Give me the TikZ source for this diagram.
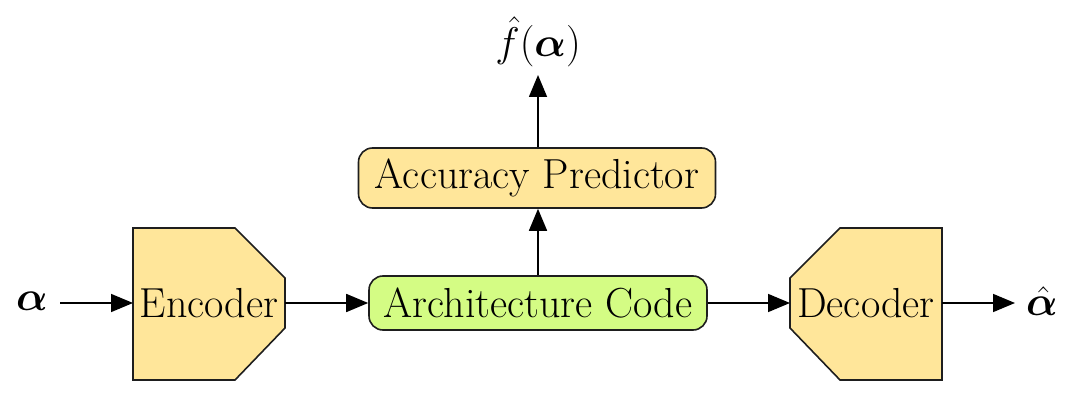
\documentclass[tikz,border=0pt]{standalone}
\usepackage{amsmath,bm}
\usetikzlibrary{arrows.meta}
\definecolor{boxyellow}{RGB}{255,230,154}
\definecolor{boxgreen}{RGB}{212,252,132}
\definecolor{edgegray}{RGB}{30,30,30}
\begin{document}
\begin{tikzpicture}[x=0.5pt,y=-0.5pt,
  lbl/.style={font=\fontsize{21}{25}\selectfont, inner sep=0pt},
  rbox/.style={draw=edgegray, line width=0.8pt, rounded corners=7pt, font=\fontsize{21}{25}\selectfont, inner sep=0pt},
  arr/.style={-{Triangle[length=11pt,width=9pt]}, line width=0.8pt},
  shp/.style={draw=edgegray, line width=0.8pt, fill=boxyellow}]
\useasboundingbox (0,0) rectangle (1080,405);
% Encoder shape
\draw[shp] (133,228) -- (235,228) -- (285,278) -- (285,328) -- (235,380) -- (133,380) -- cycle;
\node[lbl] (enc) at (209,303) {Encoder};
\coordinate (encL) at (133,303);
\coordinate (encR) at (285,303);
% Decoder shape
\draw[shp] (840,228) -- (942,228) -- (942,380) -- (840,380) -- (790,328) -- (790,278) -- cycle;
\node[lbl] (dec) at (866,303) {Decoder};
\coordinate (decL) at (790,303);
\coordinate (decR) at (942,303);
% Architecture code
\node[rbox, fill=boxgreen, minimum width=338pt*0.5, minimum height=54pt*0.5] (code) at (538,303) {Architecture Code};
% Accuracy predictor
\node[rbox, fill=boxyellow, minimum width=357pt*0.5, minimum height=60pt*0.5] (acc) at (537,178) {Accuracy Predictor};
% labels
\node[lbl] (a) at (32,301) {$\bm{\alpha}$};
\node[lbl] (ah) at (1042,301) {$\hat{\bm{\alpha}}$};
\node[lbl] (f) at (538,42) {$\hat{f}(\bm{\alpha})$};
\coordinate (aE) at (60,303);
\coordinate (ahW) at (1015,303);
\coordinate (fS) at (538,75);
% connectors
\draw[arr] (aE) -- (encL);
\draw[arr] (encR) -- (code.west);
\draw[arr] (code.east) -- (decL);
\draw[arr] (decR) -- (ahW);
\draw[arr] (code.north -| fS) -- (acc.south -| fS);
\draw[arr] (acc.north -| fS) -- (fS);
\end{tikzpicture}
\end{document}
